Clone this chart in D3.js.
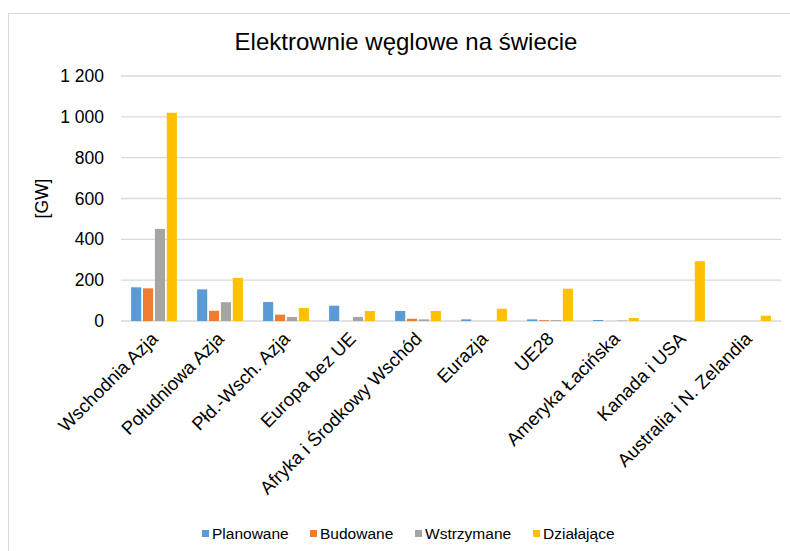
<!DOCTYPE html>
<html>
<head>
<meta charset="utf-8">
<script src="https://cdn.jsdelivr.net/npm/d3@7"></script>
<style>
  body { margin: 0; background: #fff; }
  text { font-family: "Liberation Sans", Arial, sans-serif; fill: #000; }
</style>
</head>
<body>
<svg id="chart" width="790" height="551"></svg>
<script>
const regions = ['Wschodnia Azja', 'Południowa Azja', 'Płd.-Wsch. Azja', 'Europa bez UE',
    'Afryka i Środkowy Wschód', 'Eurazja', 'UE28', 'Ameryka Łacińska', 'Kanada i USA', 'Australia i N. Zelandia']
const seriesNames = ['Planowane', 'Budowane', 'Wstrzymane', 'Działające']
const planowane = [165, 155, 93, 75, 49, 8, 8, 5, 0, 0]
const budowane = [160, 50, 31, 0, 11, 0, 4, 0, 0, 0]
const wstrzymane = [451, 92, 20, 20, 8, 0, 4, 2, 0, 0]
const dzialajace = [1020, 211, 64, 49, 49, 60, 158, 15, 293, 26]
const yTicks = [0, 200, 400, 600, 800, 1000, 1200]
const colors = ['#5b9bd5', '#ed7d31', '#a5a5a5', '#ffc000']

const series = [planowane, budowane, wstrzymane, dzialajace]
const svg = d3.select('#chart')

// frame
svg.append('rect')
    .attr('x', 8.5).attr('y', 13.5)
    .attr('width', 800).attr('height', 560)
    .attr('fill', 'none').attr('stroke', '#d9d9d9')

const margin = {left: 121, right: 781, top: 76, bottom: 321}

const x = d3.scaleBand().domain(regions).range([margin.left, margin.right])
const xi = d3.scaleBand().domain(d3.range(4)).range([0, x.bandwidth()]).paddingInner(0.15).paddingOuter(0.85)
const y = d3.scaleLinear().domain([0, 1200]).range([margin.bottom, margin.top])

svg.append('text')
    .attr('x', 406).attr('y', 50)
    .attr('text-anchor', 'middle')
    .style('font-size', '24px')
    .text('Elektrownie węglowe na świecie')

// gridlines
svg.append('g')
    .selectAll('line')
    .data(yTicks)
    .enter()
        .append('line')
        .attr('x1', margin.left).attr('x2', margin.right)
        .attr('y1', d => y(d)).attr('y2', d => y(d))
        .attr('stroke', '#d9d9d9')
        .attr('stroke-width', 1.3)

const fmt = d => d3.format(',')(d).replace(',', ' ')
svg.append('g')
    .selectAll('text')
    .data(yTicks)
    .enter()
        .append('text')
        .attr('x', 104).attr('y', d => y(d) + 6)
        .attr('text-anchor', 'end')
        .style('font-size', '17.5px')
        .text(fmt)

svg.append('text')
    .attr('transform', 'translate(48,' + y(600) + ') rotate(-90)')
    .attr('text-anchor', 'middle')
    .style('font-size', '17.5px')
    .text('[GW]')

// bars
series.forEach((values, s) => {
    svg.append('g')
        .selectAll('rect')
        .data(values)
        .enter()
            .append('rect')
            .attr('x', (d, i) => x(regions[i]) + xi(s))
            .attr('width', xi.bandwidth())
            .attr('y', d => y(d))
            .attr('height', d => y(0) - y(d))
            .attr('fill', colors[s])
})

// category labels
svg.append('g')
    .selectAll('text')
    .data(regions)
    .enter()
        .append('text')
        .attr('transform', d => 'translate(' + (x(d) + x.bandwidth() / 2 + 5) + ',' + 340 + ') rotate(-45)')
        .attr('text-anchor', 'end')
        .style('font-size', '18.5px')
        .text(d => d)

// legend
const legendX = [202, 310, 415, 533]
const legend = svg.append('g')
    .selectAll('g')
    .data(seriesNames)
    .enter()
        .append('g')
        .attr('transform', (d, i) => 'translate(' + legendX[i] + ',534)')

legend.append('rect')
    .attr('x', 0).attr('y', -4)
    .attr('width', 7).attr('height', 7)
    .attr('fill', (d, i) => colors[i])

legend.append('text')
    .attr('x', 10).attr('y', 5)
    .style('font-size', '15.5px')
    .text(d => d)
</script>
</body>
</html>
